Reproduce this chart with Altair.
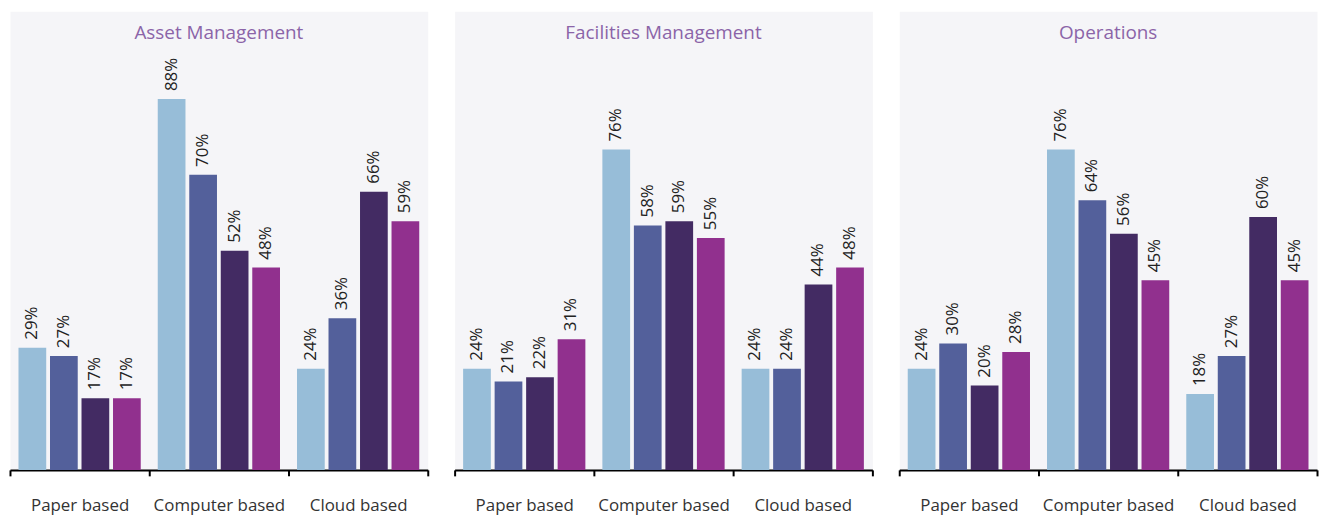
import altair as alt
import pandas as pd

panels = ["Asset Management", "Facilities Management", "Operations"]
methods = ["Paper based", "Computer based", "Cloud based"]
series = ["Series 1", "Series 2", "Series 3", "Series 4"]
colors = ["#97bdd8", "#53609b", "#432b63", "#91308e"]

asset_paper = [29, 27, 17, 17]
asset_computer = [88, 70, 52, 48]
asset_cloud = [24, 36, 66, 59]

facilities_paper = [24, 21, 22, 31]
facilities_computer = [76, 58, 59, 55]
facilities_cloud = [24, 24, 44, 48]

operations_paper = [24, 30, 20, 28]
operations_computer = [76, 64, 56, 45]
operations_cloud = [18, 27, 60, 45]

panel_values = {
    "Asset Management": [asset_paper, asset_computer, asset_cloud],
    "Facilities Management": [facilities_paper, facilities_computer, facilities_cloud],
    "Operations": [operations_paper, operations_computer, operations_cloud],
}

FONT = "Open Sans"


def panel_chart(name):
    rows = []
    for m, vals in zip(methods, panel_values[name]):
        for s, v in zip(series, vals):
            rows.append({"method": m, "series": s, "value": v, "label": f"{v}%"})
    df = pd.DataFrame(rows)
    base = alt.Chart(df).encode(
        x=alt.X(
            "method:N",
            sort=methods,
            scale=alt.Scale(paddingInner=0, paddingOuter=0),
            axis=alt.Axis(
                title=None,
                labelAngle=0,
                tickBand="extent",
                domainColor="black",
                domainWidth=2,
                tickColor="black",
                tickWidth=2,
                tickSize=6,
                labelFontSize=17,
                labelFont=FONT,
                labelPadding=22,
                labelColor="#333333",
            ),
        ),
        xOffset=alt.XOffset(
            "series:N", sort=series, scale=alt.Scale(paddingInner=0.12, paddingOuter=0.27)
        ),
        y=alt.Y("value:Q", scale=alt.Scale(domain=[0, 108.8], nice=False), axis=None),
    )
    bars = base.mark_bar().encode(
        color=alt.Color("series:N", sort=series, scale=alt.Scale(domain=series, range=colors), legend=None)
    )
    text = base.mark_text(
        angle=270, align="left", baseline="middle", dx=8, fontSize=17, font=FONT, color="#222222"
    ).encode(text="label:N")
    return (bars + text).properties(
        width=420,
        height=461,
        title=alt.TitleParams(
            text=name,
            offset=-32,
            fontSize=19,
            font=FONT,
            fontWeight="normal",
            color="#8b64a8",
            anchor="middle",
        ),
    )


chart = (
    alt.hconcat(*[panel_chart(p) for p in panels], spacing=23)
    .properties(padding={"left": 0, "top": 1, "right": 0, "bottom": 0})
    .configure_view(fill="#f5f5f8", stroke="transparent")
)

chart.save("out.html", embed_options={"renderer": "svg", "actions": False})
